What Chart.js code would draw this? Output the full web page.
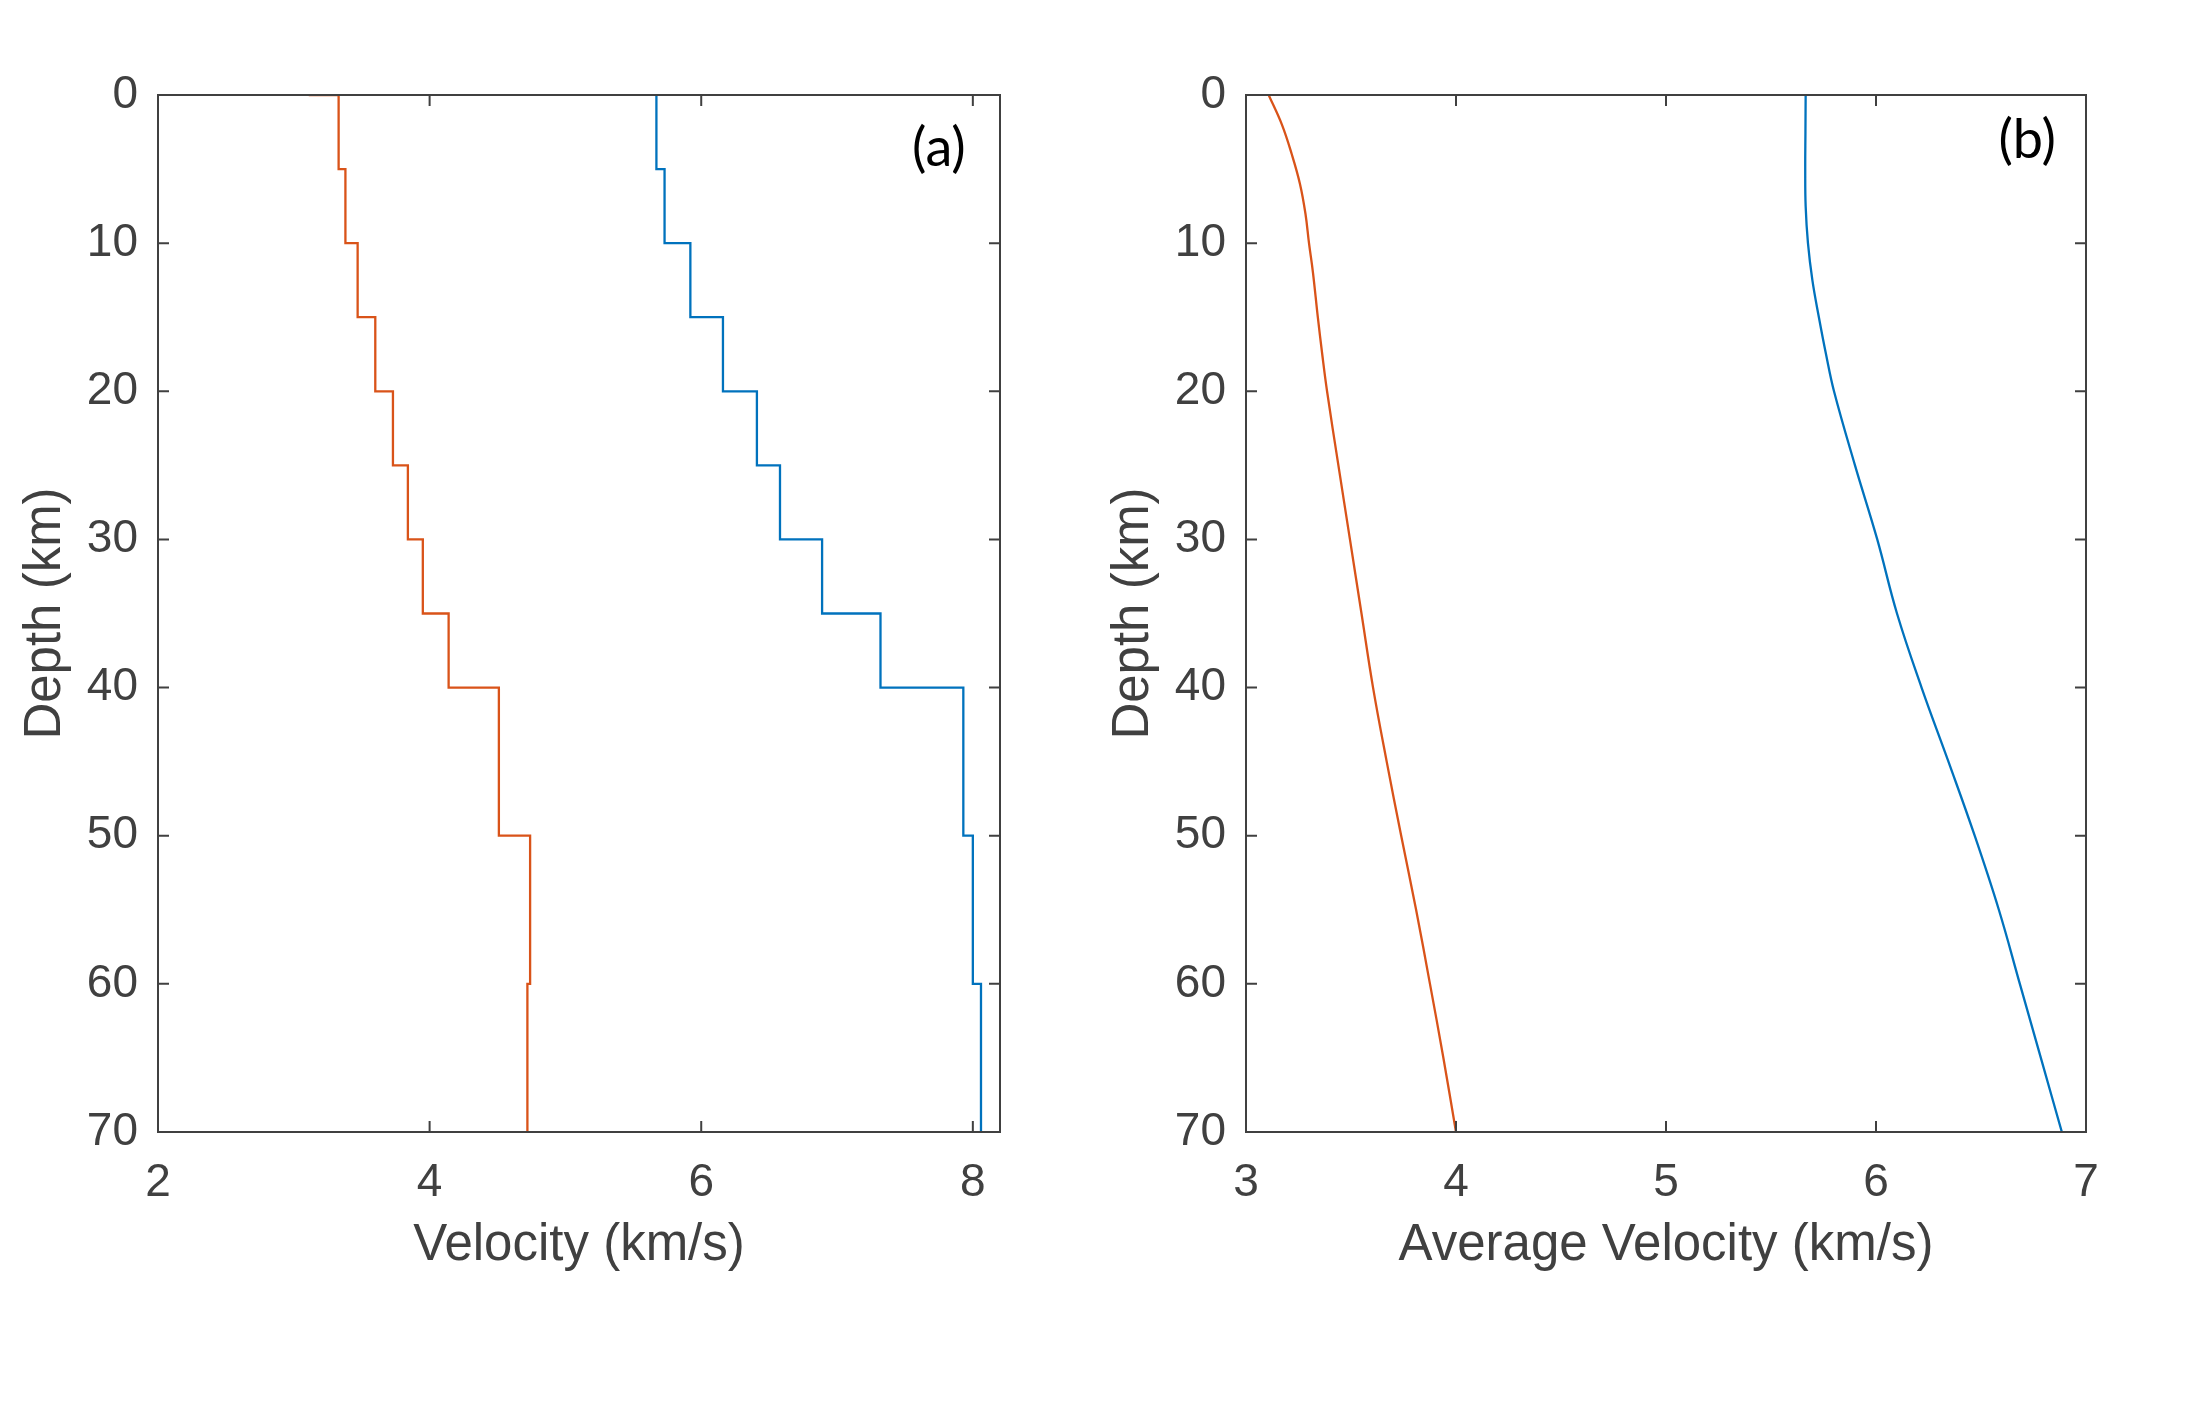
<!DOCTYPE html>
<html>
<head>
<meta charset="utf-8">
<script src="https://cdn.jsdelivr.net/npm/chart.js@4.4.1/dist/chart.umd.min.js"></script>
<style>
  html, body { margin: 0; padding: 0; background: #ffffff; }
  #wrap { position: relative; width: 2188px; height: 1417px; }
  canvas { position: absolute; left: 0; top: 0; }
</style>
</head>
<body>
<div id="wrap">
  <canvas id="ca" width="2188" height="1417"></canvas>
  <canvas id="cb" width="2188" height="1417"></canvas>
</div>
<script>
// ---- Panel (a): layered velocity model (stairs) ----
const depthA_S = [0, 0, 5, 10, 15, 20, 25, 30, 35, 40, 50, 60, 70];
const velA_S   = [3.11, 3.33, 3.38, 3.47, 3.60, 3.73, 3.84, 3.95, 4.14, 4.51, 4.74, 4.72, 4.72];
const depthA_P = [0, 5, 10, 15, 20, 25, 30, 35, 40, 50, 60, 70];
const velA_P   = [5.67, 5.73, 5.92, 6.16, 6.41, 6.58, 6.89, 7.32, 7.93, 8.00, 8.06, 8.06];

// ---- Panel (b): average velocity ----
const depthB_S = [0, 2, 4, 6, 8, 10, 12, 15, 17.5, 20, 25, 30, 35, 40, 45, 50, 55, 60, 65, 70];
const velB_S   = [3.108, 3.171, 3.218, 3.257, 3.283, 3.30, 3.319, 3.342, 3.363, 3.386, 3.44, 3.495, 3.55, 3.605, 3.67, 3.739, 3.81, 3.876, 3.94, 4.00];
const depthB_P = [0, 2.5, 5, 7.5, 10, 12.5, 15, 17.5, 20, 25, 30, 35, 40, 45, 50, 55, 60, 65, 70];
const velB_P   = [5.665, 5.664, 5.663, 5.665, 5.676, 5.697, 5.728, 5.762, 5.80, 5.90, 6.006, 6.10, 6.217, 6.345, 6.47, 6.585, 6.685, 6.785, 6.885];

// ---- Tick labels ----
const xTicksA = [2, 4, 6, 8];
const xTicksB = [3, 4, 5, 6, 7];
const yTicks  = [0, 10, 20, 30, 40, 50, 60, 70];

const ORANGE = '#D95319';
const BLUE   = '#0072BD';
const AXIS   = '#404040';
const FONT   = "'Liberation Sans', Arial, Helvetica, sans-serif";

const pts = (xs, ys) => xs.map((v, i) => ({ x: v, y: ys[i] }));

// frame + inward ticks on all four sides, plus panel letter
const framePlugin = {
  id: 'frame',
  afterDraw(chart, args, opts) {
    const { ctx, chartArea: a, scales } = chart;
    const xs = scales.x, ys = scales.y;
    ctx.save();
    ctx.strokeStyle = AXIS;
    ctx.lineWidth = 2;
    ctx.strokeRect(a.left, a.top, a.right - a.left, a.bottom - a.top);
    const tl = 11;
    ctx.beginPath();
    xs.ticks.forEach(t => {
      const px = xs.getPixelForValue(t.value);
      ctx.moveTo(px, a.bottom); ctx.lineTo(px, a.bottom - tl);
      ctx.moveTo(px, a.top);    ctx.lineTo(px, a.top + tl);
    });
    ys.ticks.forEach(t => {
      const py = ys.getPixelForValue(t.value);
      ctx.moveTo(a.left, py);  ctx.lineTo(a.left + tl, py);
      ctx.moveTo(a.right, py); ctx.lineTo(a.right - tl, py);
    });
    ctx.stroke();
    // panel letter
    ctx.fillStyle = '#000000';
    ctx.font = "54px Lato, 'Open Sans', sans-serif";
    ctx.textAlign = 'center';
    ctx.textBaseline = 'middle';
    ctx.fillText(opts.label, xs.getPixelForValue(opts.lx), ys.getPixelForValue(opts.ly));
    ctx.restore();
  }
};

function makeChart(id, cfg) {
  return new Chart(document.getElementById(id), {
    type: 'line',
    data: { datasets: cfg.datasets },
    options: {
      responsive: false,
      animation: false,
      indexAxis: cfg.indexAxis || 'x',
      layout: { padding: { left: cfg.padLeft, right: cfg.padRight, top: 95, bottom: 0 } },
      plugins: {
        legend: { display: false },
        tooltip: { enabled: false },
        frame: { label: cfg.label, lx: cfg.lx, ly: cfg.ly }
      },
      elements: { point: { radius: 0 } },
      scales: {
        x: {
          type: 'linear',
          position: 'bottom',
          min: cfg.xmin, max: cfg.xmax,
          afterBuildTicks: s => { s.ticks = cfg.xTicks.map(v => ({ value: v })); },
          afterFit: s => { s.height = 285; },
          grid: { display: false, drawTicks: false },
          border: { display: false },
          ticks: { color: AXIS, font: { family: FONT, size: 46 }, padding: 24, maxRotation: 0, autoSkip: false },
          title: { display: true, text: cfg.xTitle, color: AXIS, font: { family: FONT, size: 51, lineHeight: 1 }, padding: { top: 0, bottom: 146 } }
        },
        y: {
          type: 'linear',
          position: 'left',
          reverse: true,
          min: 0, max: 70,
          afterBuildTicks: s => { s.ticks = yTicks.map(v => ({ value: v })); },
          afterFit: s => { s.width = 158; },
          grid: { display: false, drawTicks: false },
          border: { display: false },
          ticks: { color: AXIS, font: { family: FONT, size: 46 }, padding: 20, autoSkip: false },
          title: { display: true, text: 'Depth (km)', color: AXIS, font: { family: FONT, size: 51, lineHeight: 1 }, padding: { top: 20, bottom: 0 } }
        }
      }
    },
    plugins: [framePlugin]
  });
}

makeChart('ca', {
  padLeft: 0, padRight: 2188 - 1000,
  xmin: 2, xmax: 8.2, xTicks: xTicksA, xTitle: 'Velocity (km/s)',
  label: '(a)', lx: 7.75, ly: 3.6,
  datasets: [
    { data: pts(velA_S, depthA_S), borderColor: ORANGE, borderWidth: 2.3, stepped: 'after', fill: false },
    { data: pts(velA_P, depthA_P), borderColor: BLUE,   borderWidth: 2.3, stepped: 'after', fill: false }
  ]
});

makeChart('cb', {
  padLeft: 1088, padRight: 2188 - 2086,
  indexAxis: 'y',
  xmin: 3, xmax: 7, xTicks: xTicksB, xTitle: 'Average Velocity (km/s)',
  label: '(b)', lx: 6.72, ly: 3.1,
  datasets: [
    { data: pts(velB_S, depthB_S), borderColor: ORANGE, borderWidth: 2.3, tension: 0.4, fill: false },
    { data: pts(velB_P, depthB_P), borderColor: BLUE,   borderWidth: 2.3, tension: 0.4, fill: false }
  ]
});
</script>
</body>
</html>
